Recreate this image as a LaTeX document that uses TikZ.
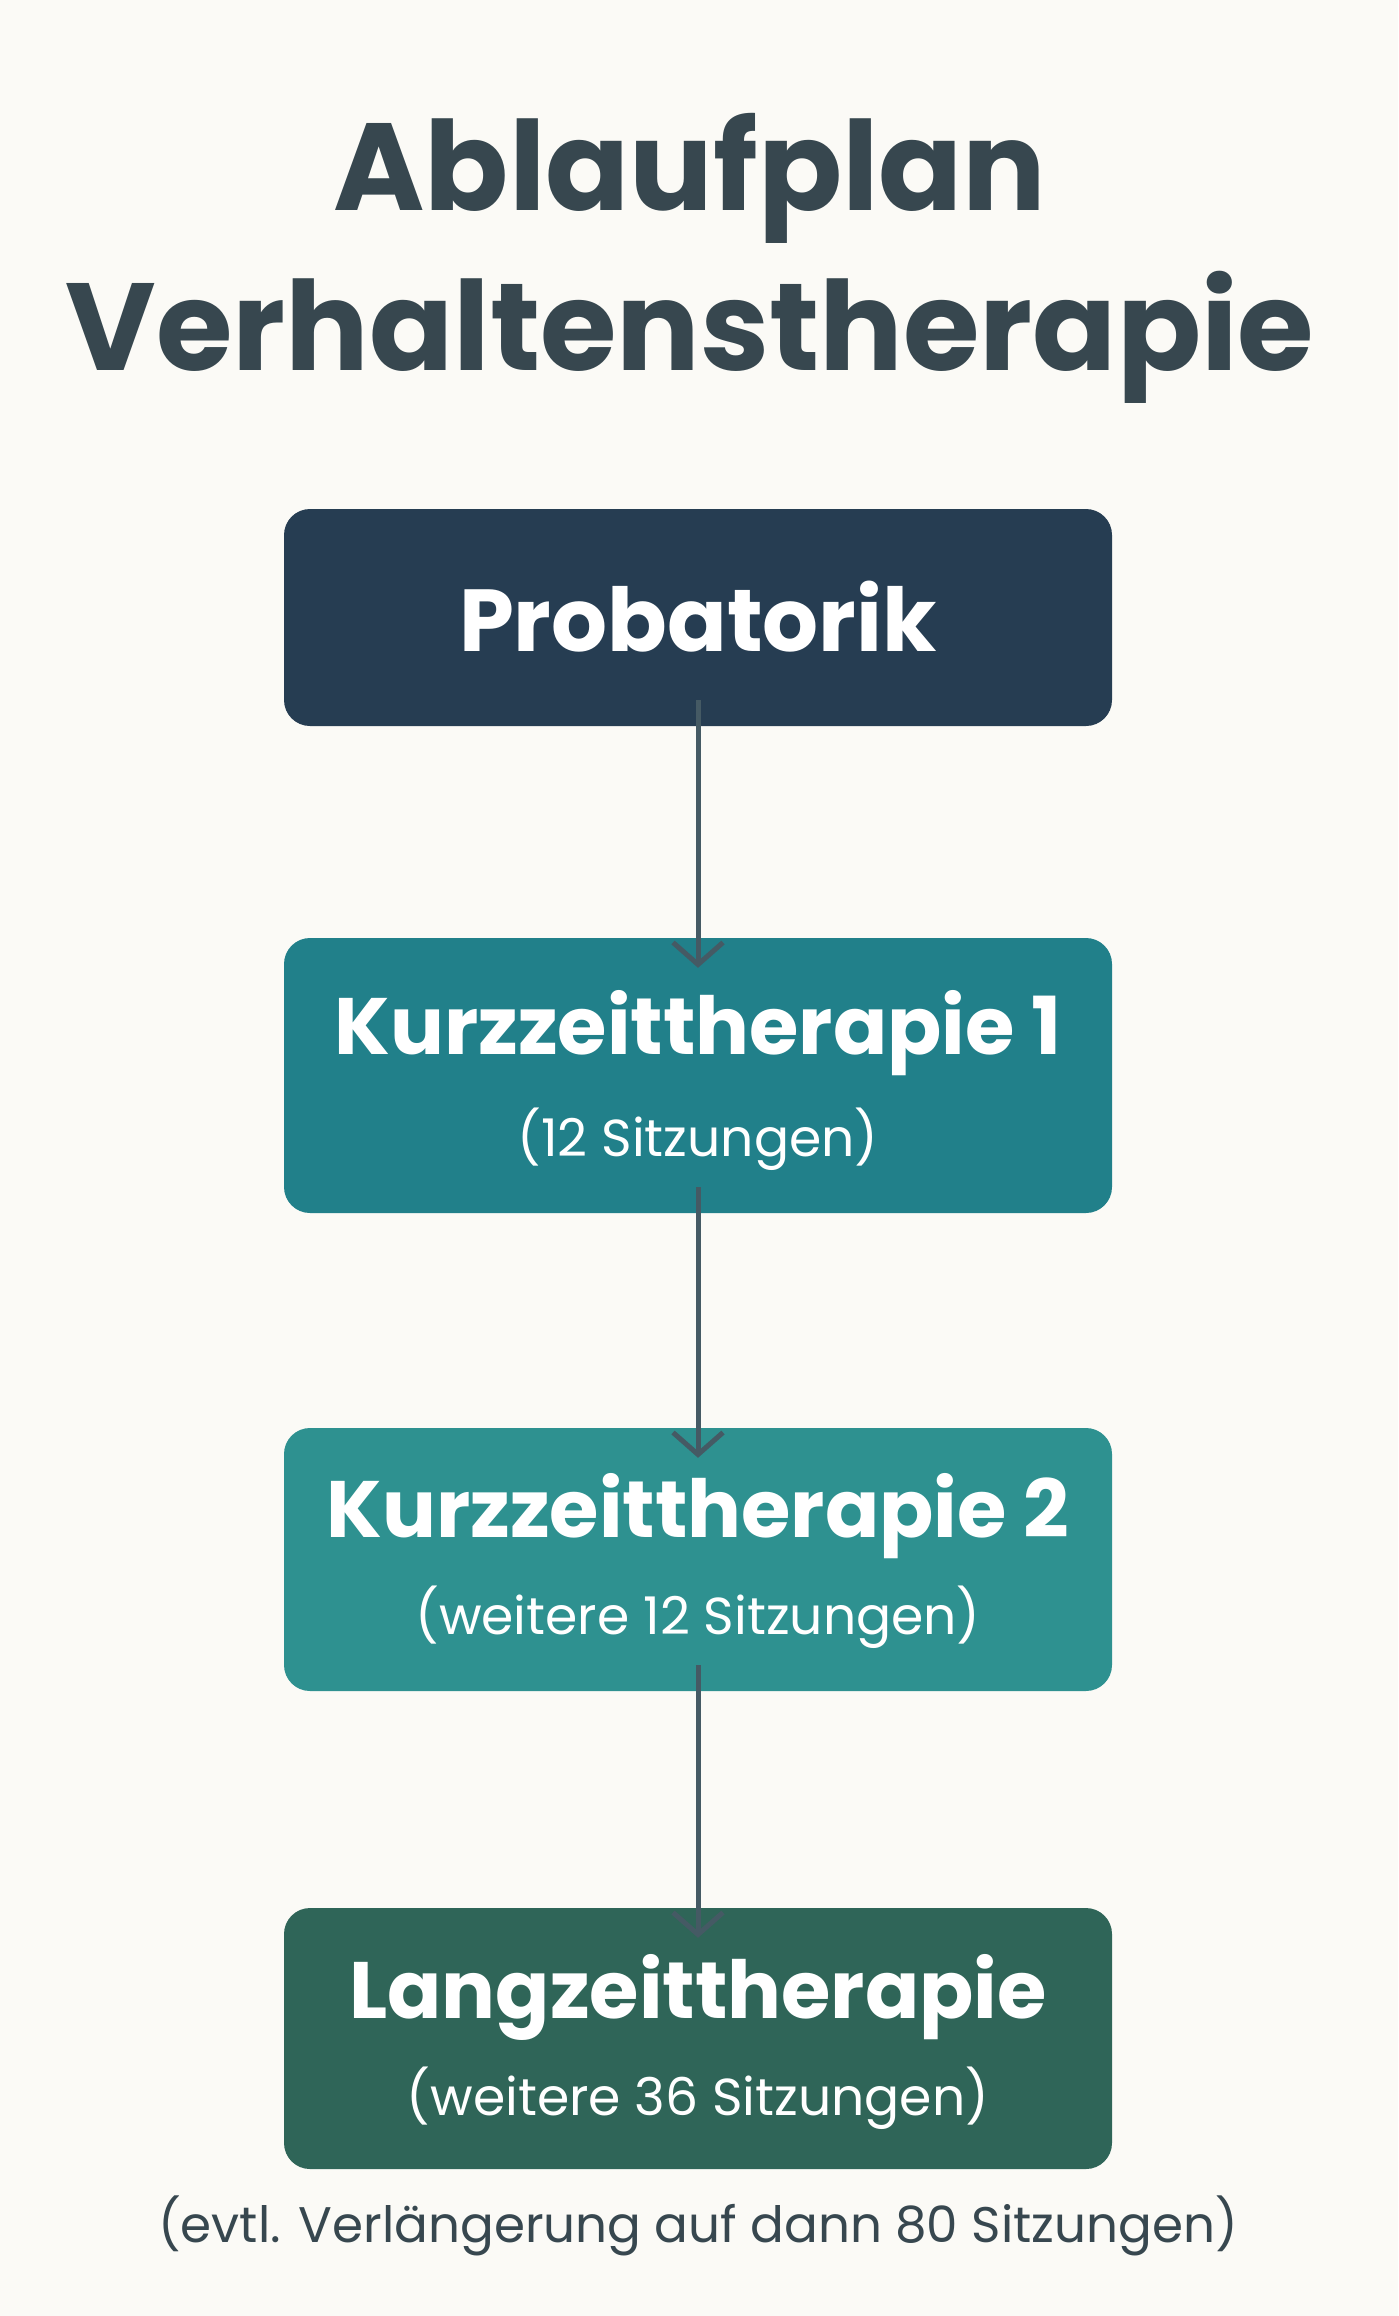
\documentclass[tikz,border=0pt]{standalone}
\usepackage{fontspec}
\setmainfont{Poppins}
\usetikzlibrary{arrows.meta}
\definecolor{bg}{HTML}{FBFAF6}
\definecolor{ctitle}{HTML}{37474F}
\definecolor{cprob}{HTML}{263D52}
\definecolor{ckz1}{HTML}{21808A}
\definecolor{ckz2}{HTML}{2E9190}
\definecolor{clang}{HTML}{2F6558}
\definecolor{carrow}{HTML}{455A64}
\tikzset{
  box/.style={draw=none,rounded corners=26pt,minimum width=828pt,inner sep=0pt},
  maintext/.style={text=white,font=\fontsize{80}{90}\selectfont\bfseries,inner sep=0pt},
  subtext/.style={text=white,font=\fontsize{52}{60}\selectfont,inner sep=0pt},
  flow/.style={carrow,line width=5pt,-{Straight Barb[length=22pt,width=50pt,line width=5pt]}}
}
\begin{document}
\begin{tikzpicture}[x=1pt,y=-1pt]
\fill[bg] (0,0) rectangle (1398,2316);
\useasboundingbox (0,0) rectangle (1398,2316);
\node[text=ctitle,font=\fontsize{124}{130}\selectfont\bfseries,inner sep=0pt] (t1) at (690,178) {Ablaufplan};
\node[text=ctitle,font=\fontsize{124}{130}\selectfont\bfseries,inner sep=0pt] (t2) at (690,337) {Verhaltenstherapie};
\fill[cprob,rounded corners=26pt] (284,509) rectangle (1112,726);
\fill[ckz1,rounded corners=26pt] (284,938) rectangle (1112,1213);
\fill[ckz2,rounded corners=26pt] (284,1428) rectangle (1112,1691);
\fill[clang,rounded corners=26pt] (284,1908) rectangle (1112,2169);
\node[box,minimum height=217pt] (b1) at (698,617.5) {};
\node[box,minimum height=275pt] (b2) at (698,1075.5) {};
\node[box,minimum height=263pt] (b3) at (698,1559.5) {};
\node[box,minimum height=261pt] (b4) at (698,2038.5) {};
\node[maintext,font=\fontsize{88}{96}\selectfont\bfseries] (p) at (698,617) {Probatorik};
\node[maintext] (k1) at (698,1033) {Kurzzeittherapie 1};
\node[subtext] (k1s) at (698,1139) {(12 Sitzungen)};
\node[maintext] (k2) at (698,1516) {Kurzzeittherapie 2};
\node[subtext] (k2s) at (698,1617) {(weitere 12 Sitzungen)};
\node[maintext] (l) at (698,1997) {Langzeittherapie};
\node[subtext] (ls) at (698,2098) {(weitere 36 Sitzungen)};
\node[text=ctitle,font=\fontsize{50}{58}\selectfont,inner sep=0pt] (fn) at (698,2226) {(evtl. Verlängerung auf dann 80 Sitzungen)};
\draw[flow] ([yshift=26pt]b1.south) -- ([yshift=-30pt]b2.north);
\draw[flow] ([yshift=26pt]b2.south) -- ([yshift=-30pt]b3.north);
\draw[flow] ([yshift=26pt]b3.south) -- ([yshift=-30pt]b4.north);
\end{tikzpicture}
\end{document}
